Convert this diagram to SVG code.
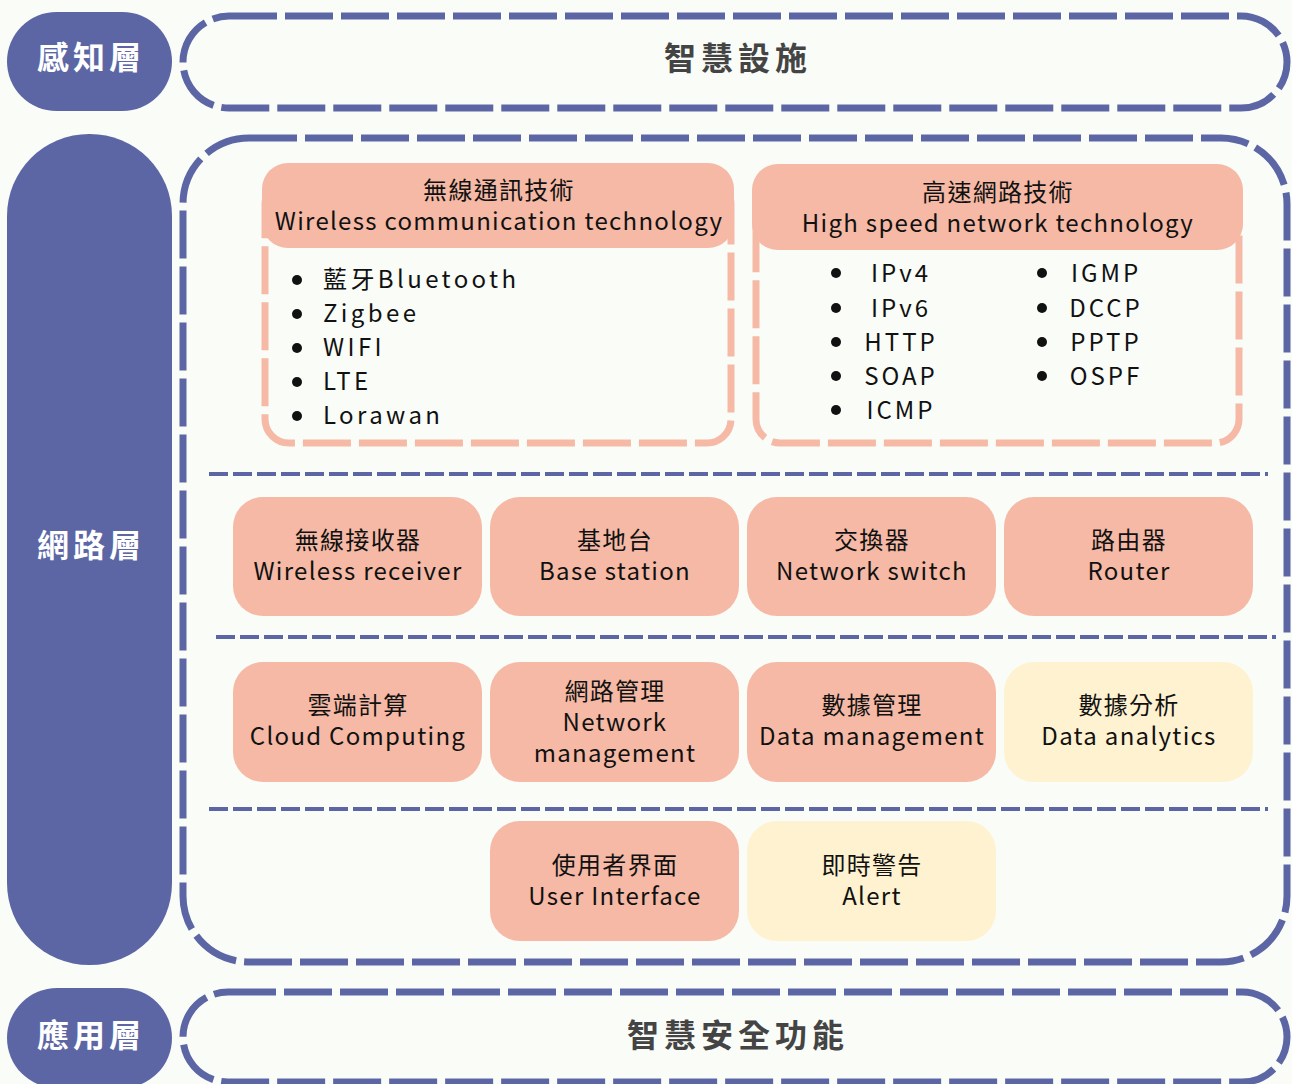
<svg xmlns="http://www.w3.org/2000/svg" width="1292" height="1084" viewBox="0 0 1292 1084">
<style>
.pill{fill:#5c66a4}
.lbl{font-family:"Noto Sans CJK TC","Noto Sans",sans-serif;font-weight:bold;font-size:32px;letter-spacing:4px;fill:#ffffff;text-anchor:middle}
.frame{fill:none;stroke:#5c66a4;stroke-width:7;stroke-dasharray:48 8}
.title{font-family:"Noto Sans CJK TC","Noto Sans",sans-serif;font-weight:bold;font-size:32px;letter-spacing:5px;fill:#444444;text-anchor:middle}
.sep{fill:none;stroke:#5c66a4;stroke-width:4;stroke-dasharray:19 5}
.hdr{fill:#f5b9a5}
.body{fill:none;stroke:#f5b9a5;stroke-width:7;stroke-dasharray:48 8}
.node{fill:#f5b9a5}
.ynode{fill:#fff2d0}
.t{font-family:"Noto Sans CJK TC","Noto Sans",sans-serif;font-size:24px;letter-spacing:1.3px;fill:#111111;text-anchor:middle}
.li{font-family:"Noto Sans CJK TC","Noto Sans",sans-serif;font-size:24px;fill:#111111;letter-spacing:3.4px}
.lim{font-family:"Noto Sans CJK TC","Noto Sans",sans-serif;font-size:24px;fill:#111111;letter-spacing:3px;text-anchor:middle}
.dot{fill:#111111}
</style>
<rect x="0" y="0" width="1292" height="1084" fill="#fafcf8"/>

<g id="layer-perception">
<rect class="pill" x="7" y="12" width="165" height="99" rx="49.5"/>
<text class="lbl" x="91" y="69">感知層</text>
</g>
<g id="layer-network">
<rect class="pill" x="7" y="134" width="165" height="831" rx="82"/>
<text class="lbl" x="91" y="557">網路層</text>
</g>
<g id="layer-application">
<rect class="pill" x="7" y="988" width="165" height="100" rx="50"/>
<text class="lbl" x="91" y="1047">應用層</text>
</g>

<g id="frame-top">
<rect class="frame" x="183" y="16" width="1104" height="92" rx="46"/>
<text class="title" x="738" y="70">智慧設施</text>
</g>
<g id="frame-network">
<rect class="frame" x="183" y="138" width="1104" height="824" rx="66"/>
</g>
<g id="frame-bottom">
<rect class="frame" x="183" y="992" width="1104" height="90" rx="45"/>
<text class="title" x="738" y="1047">智慧安全功能</text>
</g>

<g id="separators">
<line class="sep" x1="209" y1="474" x2="1268" y2="474"/>
<line class="sep" x1="216" y1="637" x2="1276" y2="637"/>
<line class="sep" x1="209" y1="809" x2="1268" y2="809"/>
</g>

<g id="wireless-tech">
<rect class="body" x="265" y="180" width="466" height="263" rx="24"/>
<rect class="hdr" x="262" y="163" width="472" height="85" rx="26"/>
<text class="t" x="499" y="199">無線通訊技術</text>
<text class="t" x="499" y="230">Wireless communication technology</text>
<circle class="dot" cx="297" cy="280" r="5"/>
<circle class="dot" cx="297" cy="314" r="5"/>
<circle class="dot" cx="297" cy="348" r="5"/>
<circle class="dot" cx="297" cy="382" r="5"/>
<circle class="dot" cx="297" cy="416" r="5"/>
<text class="li" x="323" y="288">藍牙Bluetooth</text>
<text class="li" x="323" y="322">Zigbee</text>
<text class="li" x="323" y="356">WIFI</text>
<text class="li" x="323" y="390">LTE</text>
<text class="li" x="323" y="424">Lorawan</text>
</g>

<g id="highspeed-tech">
<rect class="body" x="756" y="180" width="483" height="263" rx="24"/>
<rect class="hdr" x="752" y="164" width="491" height="86" rx="26"/>
<text class="t" x="998" y="201">高速網路技術</text>
<text class="t" x="998" y="232">High speed network technology</text>
<circle class="dot" cx="836" cy="273" r="5"/>
<circle class="dot" cx="836" cy="308" r="5"/>
<circle class="dot" cx="836" cy="342" r="5"/>
<circle class="dot" cx="836" cy="376" r="5"/>
<circle class="dot" cx="836" cy="410" r="5"/>
<circle class="dot" cx="1042" cy="273" r="5"/>
<circle class="dot" cx="1042" cy="308" r="5"/>
<circle class="dot" cx="1042" cy="342" r="5"/>
<circle class="dot" cx="1042" cy="376" r="5"/>
<text class="lim" x="901" y="282">IPv4</text>
<text class="lim" x="901" y="317">IPv6</text>
<text class="lim" x="901" y="351">HTTP</text>
<text class="lim" x="901" y="385">SOAP</text>
<text class="lim" x="901" y="419">ICMP</text>
<text class="lim" x="1106" y="282">IGMP</text>
<text class="lim" x="1106" y="317">DCCP</text>
<text class="lim" x="1106" y="351">PPTP</text>
<text class="lim" x="1106" y="385">OSPF</text>
</g>

<g id="wireless-receiver">
<rect class="node" x="233" y="497" width="249" height="119" rx="30"/>
<text class="t" x="358" y="549">無線接收器</text>
<text class="t" x="358" y="580">Wireless receiver</text>
</g>
<g id="base-station">
<rect class="node" x="490" y="497" width="249" height="119" rx="30"/>
<text class="t" x="615" y="549">基地台</text>
<text class="t" x="615" y="580">Base station</text>
</g>
<g id="network-switch">
<rect class="node" x="747" y="497" width="249" height="119" rx="30"/>
<text class="t" x="872" y="549">交換器</text>
<text class="t" x="872" y="580">Network switch</text>
</g>
<g id="router">
<rect class="node" x="1004" y="497" width="249" height="119" rx="30"/>
<text class="t" x="1129" y="549">路由器</text>
<text class="t" x="1129" y="580">Router</text>
</g>

<g id="cloud-computing">
<rect class="node" x="233" y="662" width="249" height="120" rx="30"/>
<text class="t" x="358" y="714">雲端計算</text>
<text class="t" x="358" y="745">Cloud Computing</text>
</g>
<g id="network-management">
<rect class="node" x="490" y="662" width="249" height="120" rx="30"/>
<text class="t" x="615" y="700">網路管理</text>
<text class="t" x="615" y="731">Network</text>
<text class="t" x="615" y="762">management</text>
</g>
<g id="data-management">
<rect class="node" x="747" y="662" width="249" height="120" rx="30"/>
<text class="t" x="872" y="714">數據管理</text>
<text class="t" x="872" y="745">Data management</text>
</g>
<g id="data-analytics">
<rect class="ynode" x="1004" y="662" width="249" height="120" rx="30"/>
<text class="t" x="1129" y="714">數據分析</text>
<text class="t" x="1129" y="745">Data analytics</text>
</g>

<g id="user-interface">
<rect class="node" x="490" y="821" width="249" height="120" rx="30"/>
<text class="t" x="615" y="874">使用者界面</text>
<text class="t" x="615" y="905">User Interface</text>
</g>
<g id="alert">
<rect class="ynode" x="747" y="821" width="249" height="120" rx="30"/>
<text class="t" x="872" y="874">即時警告</text>
<text class="t" x="872" y="905">Alert</text>
</g>

<g id="connectors"></g>
</svg>
